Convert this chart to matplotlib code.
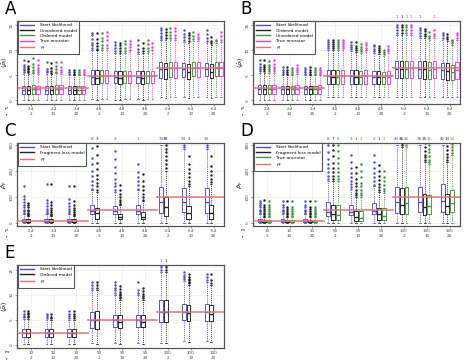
import matplotlib.pyplot as plt
import numpy as np

# ---- labels -------------------------------------------------------------
rho_lab = ['2.4', '2.4', '2.4', '4.8', '4.8', '4.8', '6.4', '6.4', '6.4']
m_lab = ['10', '10', '10', '50', '50', '50', '100', '100', '100']
r_lab = ['2', '10', '20', '2', '10', '20', '2', '10', '20']

true_ab = [2.4, 4.8, 6.4]
true_cd = [10, 50, 100]
true_e = [2.4, 4.9, 6.5]

# ---- box stats: (whislo, q1, med, q3, whishi) per group ------------------
a_start = [(0.1, 1.2, 2.1, 2.9, 5.3), (0.1, 1.2, 2.1, 2.9, 5.3), (0.1, 1.3, 2.1, 2.8, 5.0),
           (0.2, 3.3, 4.7, 6.0, 10.0), (0.1, 3.5, 4.7, 5.9, 9.5), (0.2, 3.5, 4.6, 5.8, 9.3),
           (0.6, 4.5, 6.3, 7.6, 12.0), (0.6, 4.7, 6.3, 7.5, 11.7), (0.6, 4.8, 6.3, 7.5, 11.5)]
a_start_out = [[5.6, 6.0, 6.3, 6.7, 7.1, 8.0], [5.6, 5.9, 6.3, 7.6], [5.3, 5.6, 6.1],
               [10.4, 11.0, 11.5, 12.2, 13.0, 13.5], [9.9, 10.4, 11.0, 11.6], [9.7, 10.2, 11.0, 12.0],
               [12.4, 12.9, 13.5, 14.0, 14.5], [12.1, 12.6, 13.3, 14.1], [11.9, 12.5, 13.2, 14.0]]
a_unord = [(0.1, 1.2, 2.1, 2.9, 5.3), (0.1, 1.2, 2.1, 2.9, 5.2), (0.1, 1.3, 2.1, 2.8, 5.0),
           (0.1, 3.2, 4.5, 6.0, 10.0), (0.1, 3.3, 4.5, 5.9, 9.5), (0.1, 3.3, 4.5, 5.8, 9.4),
           (0.5, 4.3, 6.2, 7.5, 12.0), (0.5, 4.3, 5.6, 7.3, 11.5), (0.5, 4.4, 5.7, 7.3, 11.0)]
a_unord_out = [[5.6, 5.9, 6.2, 6.5, 6.9, 7.9], [5.5, 5.9, 6.4, 7.5], [5.3, 5.6, 6.1],
               [10.3, 10.8, 11.5, 12.3, 13.5], [9.9, 10.4, 11.0, 11.5], [9.8, 10.4, 11.5],
               [12.4, 13.0, 13.6, 14.3], [11.9, 12.4, 13.0, 13.5], [11.4, 11.8, 12.6]]
a_ord = [(0.1, 1.3, 2.2, 3.0, 5.4), (0.1, 1.3, 2.2, 3.0, 5.4), (0.1, 1.3, 2.1, 2.8, 5.0),
         (0.2, 3.5, 4.8, 6.0, 10.0), (0.2, 3.5, 4.8, 5.9, 9.5), (0.2, 3.5, 4.8, 5.8, 9.4),
         (0.7, 4.6, 6.4, 7.7, 12.0), (0.7, 4.8, 6.5, 7.7, 11.8), (0.7, 4.8, 6.4, 7.7, 11.5)]
a_ord_out = [[5.7, 6.1, 6.6, 7.2, 8.4], [5.7, 6.2, 6.8, 7.7], [5.3, 5.7, 6.1],
             [10.4, 11.0, 11.8, 12.5, 13.5], [9.9, 10.5, 11.2, 11.8], [9.8, 10.5, 11.3, 12.1],
             [12.4, 13.0, 13.7, 14.5], [12.2, 12.8, 13.6], [11.8, 12.1]]
a_true = [(0.1, 1.3, 2.2, 2.9, 5.3), (0.1, 1.3, 2.2, 3.0, 5.3), (0.1, 1.3, 2.1, 2.8, 5.0),
          (0.2, 3.4, 4.8, 6.0, 10.0), (0.2, 3.5, 4.8, 5.9, 9.6), (0.2, 3.5, 4.8, 5.9, 9.5),
          (0.7, 4.5, 6.4, 7.6, 12.0), (0.7, 4.7, 6.4, 7.6, 11.8), (0.7, 4.8, 6.4, 7.6, 11.6)]
a_true_out = [[5.6, 6.0, 6.5, 7.0, 8.1], [5.6, 6.0, 6.6, 7.7], [5.3, 5.7, 6.0],
              [10.4, 11.1, 12.0, 12.8, 13.6], [10.0, 10.6, 11.3, 11.8], [10.0, 10.6, 11.5],
              [12.4, 13.0, 13.8, 14.4], [12.2, 12.6, 13.3], [12.0, 12.8, 13.6]]

b_start = [(0.1, 1.3, 2.3, 3.1, 5.4), (0.1, 1.3, 2.2, 2.9, 5.0), (0.1, 1.3, 2.2, 2.9, 5.0),
           (0.7, 3.3, 4.8, 6.1, 10.0), (0.7, 3.3, 4.8, 6.0, 9.8), (0.7, 3.3, 4.6, 5.8, 9.5),
           (0.6, 4.5, 6.3, 7.9, 13.0), (0.6, 4.5, 6.3, 7.9, 12.5), (0.6, 4.2, 6.1, 7.5, 12.0)]
b_start_out = [[5.8, 6.2, 6.6, 7.2, 8.0], [5.3, 5.6, 6.0, 6.6], [5.3, 5.6, 6.0, 6.5],
               [10.4, 10.8, 11.3, 11.7, 12.1], [10.2, 10.6, 11.1, 11.6], [9.9, 10.3, 10.8, 11.1],
               [13.4, 14.0, 14.6, 15.1], [12.9, 13.4, 14.0, 14.5], [12.4, 13.0, 13.5]]
b_ord = [(0.1, 1.3, 2.2, 3.1, 5.4), (0.1, 1.3, 2.2, 2.9, 5.0), (0.1, 1.3, 2.2, 2.9, 5.0),
         (0.7, 3.2, 4.7, 6.1, 10.0), (0.7, 3.2, 4.6, 6.0, 9.6), (0.7, 3.2, 4.6, 5.8, 9.3),
         (0.6, 4.5, 6.3, 7.9, 13.0), (0.6, 4.3, 6.2, 7.8, 12.4), (0.6, 4.1, 5.9, 7.4, 11.8)]
b_ord_out = [[5.8, 6.2, 6.6, 7.1, 8.0], [5.3, 5.7, 6.1, 6.6], [5.3, 5.7, 6.1, 6.6],
             [10.4, 10.8, 11.3, 11.7, 12.1], [10.0, 10.4, 10.9, 11.6], [9.7, 10.1, 10.5, 10.8],
             [13.4, 14.0, 14.6, 15.1], [12.8, 13.2, 13.8, 14.3], [12.2, 12.7, 13.3]]
b_unord = [(0.1, 1.3, 2.3, 3.1, 5.4), (0.1, 1.3, 2.2, 2.9, 5.0), (0.1, 1.3, 2.2, 2.9, 5.0),
           (0.7, 3.3, 4.7, 6.1, 10.0), (0.7, 3.3, 4.6, 5.8, 9.4), (0.7, 3.3, 4.6, 5.6, 8.8),
           (0.6, 4.5, 6.3, 7.9, 13.0), (0.6, 4.3, 6.0, 7.6, 12.0), (0.6, 4.0, 5.6, 7.1, 11.0)]
b_unord_out = [[5.8, 6.2, 6.6, 7.1, 7.9], [5.3, 5.6, 6.0, 6.5], [5.3, 5.6, 6.0, 6.5],
               [10.4, 10.8, 11.3, 11.7, 12.1], [9.8, 10.2, 10.7, 11.3], [9.2, 9.6, 10.1],
               [13.4, 14.0, 14.6, 15.1], [12.4, 12.9, 13.6], [11.4, 11.8, 12.1]]
b_true = [(0.1, 1.3, 2.3, 3.1, 5.4), (0.1, 1.3, 2.3, 3.0, 5.2), (0.1, 1.3, 2.3, 3.0, 5.0),
          (0.7, 3.3, 4.8, 6.1, 10.0), (0.7, 3.3, 4.8, 6.0, 9.6), (0.7, 3.3, 4.7, 5.9, 9.5),
          (0.6, 4.5, 6.4, 7.9, 13.0), (0.6, 4.5, 6.3, 7.9, 12.4), (0.6, 4.3, 6.1, 7.6, 12.0)]
b_true_out = [[5.8, 6.2, 6.6, 7.2, 8.0], [5.6, 6.0, 6.5, 7.1], [5.3, 5.7, 6.1, 6.5],
              [10.4, 10.8, 11.3, 11.7, 12.1], [10.0, 10.4, 11.0, 11.5], [9.9, 10.3, 10.8],
              [13.4, 14.0, 14.6, 15.1], [12.8, 13.3, 14.1], [12.4, 13.0, 13.5]]

c_start = [(0, 4, 8, 16, 34), (0, 4, 8, 16, 34), (0, 4, 8, 16, 34),
           (0, 33, 48, 69, 125), (0, 33, 48, 67, 120), (0, 33, 46, 69, 125),
           (0, 37, 81, 139, 300), (0, 43, 81, 135, 285), (0, 40, 81, 135, 285)]
c_start_out = [[38, 45, 52, 60, 70, 80, 92, 103, 141], [38, 46, 55, 64, 75, 88, 150],
               [38, 46, 55, 65, 78, 92, 143], [132, 145, 160, 180, 200, 225, 250, 287],
               [128, 140, 155, 170, 190, 215, 245, 274], [132, 145, 160, 175, 195, 224],
               [], [292, 300], [292, 300]]
c_frag = [(0, 4, 6, 14, 26), (0, 4, 6, 14, 26), (0, 4, 6, 14, 26),
          (0, 14, 39, 56, 118), (0, 14, 24, 36, 68), (0, 14, 25, 43, 85),
          (0, 27, 62, 100, 200), (0, 14, 39, 65, 140), (0, 14, 37, 69, 150)]
c_frag_out = [[30, 35, 40, 46, 52, 60, 70, 78], [30, 36, 42, 50, 58, 68, 80, 150],
              [30, 36, 42, 50, 58, 70, 85, 143], [125, 140, 155, 170, 185, 205, 230, 260, 293],
              [72, 80, 90, 100, 112, 125, 147], [90, 100, 112, 125, 140, 160, 186],
              [210, 225, 240, 255, 270, 285, 300], [148, 160, 175, 190, 205, 225, 255],
              [158, 170, 185, 200, 220, 255]]

d_start = [(0, 4, 8, 16, 34), (0, 4, 8, 16, 34), (0, 4, 8, 16, 34),
           (0, 27, 43, 81, 160), (0, 30, 43, 71, 130), (0, 33, 46, 76, 140),
           (0, 39, 81, 139, 300), (0, 43, 81, 139, 300), (0, 43, 84, 150, 300)]
d_start_out = [[38, 45, 52, 60, 68, 76, 86], [38, 45, 52, 60, 70, 84], [38, 45, 52, 60, 70, 86],
               [168, 180, 195, 210, 225, 245, 270, 300], [137, 148, 160, 175, 190, 210, 235, 262],
               [147, 160, 175, 190, 210, 235, 262], [], [], []]
d_frag = [(0, 3, 6, 12, 24), (0, 3, 6, 12, 24), (0, 3, 6, 12, 24),
          (0, 11, 33, 71, 160), (0, 10, 23, 48, 100), (0, 11, 33, 58, 120),
          (0, 33, 69, 135, 290), (0, 30, 62, 112, 235), (0, 33, 67, 112, 235)]
d_frag_out = [[28, 34, 40, 46, 53, 60, 68, 90], [28, 34, 40, 47, 55, 63, 84],
              [28, 34, 40, 47, 55, 63, 86], [168, 180, 195, 210, 230, 255, 280, 300],
              [106, 115, 125, 140, 155, 170, 190, 215], [127, 138, 150, 165, 180, 200, 222],
              [298, 305], [242, 252, 262, 275, 290, 305], [242, 252, 265, 280, 295]]
d_true = [(0, 3, 6, 12, 24), (0, 3, 6, 12, 24), (0, 3, 6, 12, 24),
          (0, 11, 30, 71, 160), (0, 10, 20, 48, 100), (0, 11, 27, 58, 115),
          (0, 35, 75, 137, 290), (0, 33, 66, 107, 225), (0, 43, 75, 125, 260)]
d_true_out = [[28, 34, 40, 46, 53, 60, 68, 86], [28, 34, 40, 47, 55, 63, 84],
              [28, 34, 40, 47, 55, 63, 86], [168, 180, 195, 210, 230, 250, 275, 300],
              [106, 115, 125, 140, 155, 175, 200, 225], [122, 132, 145, 160, 178, 200],
              [298], [232, 242, 255, 270, 285, 300], [268, 280, 292, 302]]

e_start = [(0.1, 1.5, 2.3, 3.1, 5.2), (0.1, 1.5, 2.3, 3.1, 5.0), (0.1, 1.5, 2.3, 3.1, 5.0),
           (0.3, 3.4, 5.0, 6.6, 11.0), (0.3, 3.5, 5.0, 6.0, 10.0), (0.3, 3.5, 5.0, 6.0, 10.0),
           (0.4, 4.5, 6.5, 8.9, 14.5), (0.8, 4.9, 6.5, 8.1, 12.7), (0.8, 4.8, 6.5, 8.2, 12.5)]
e_start_out = [[5.5, 5.8, 6.2, 6.7], [5.3, 5.7, 6.1], [5.3, 5.7, 6.2, 6.8],
               [11.4, 11.9, 12.5], [10.4, 10.9, 11.4, 12.0, 12.5], [10.4, 11.0, 12.5],
               [15.0, 15.5, 16.0], [13.1, 13.5, 14.0, 14.5], [12.9, 13.5, 14.1]]
e_ord = [(0.1, 1.5, 2.3, 3.1, 5.2), (0.1, 1.5, 2.3, 3.1, 5.0), (0.1, 1.5, 2.3, 3.1, 5.0),
         (0.1, 3.1, 5.0, 6.7, 11.0), (0.1, 3.3, 4.6, 6.0, 9.0), (0.1, 3.5, 4.6, 6.0, 9.0),
         (0.4, 4.5, 6.5, 8.9, 14.5), (0.5, 4.8, 6.3, 7.9, 12.0), (0.5, 4.8, 6.1, 7.9, 12.0)]
e_ord_out = [[5.5, 5.8, 6.1, 6.4, 6.8], [5.3, 5.6, 6.1], [5.3, 5.7, 6.2, 6.8],
             [11.4, 11.9, 12.5], [9.3, 9.6, 9.9, 10.2, 10.6, 11.2, 11.8], [9.4, 9.8, 10.2, 10.7, 11.3],
             [15.0, 15.5, 16.0], [12.3, 12.6, 12.9, 13.2, 13.6, 14.1], [12.4, 13.0, 14.1]]

# counts of points above the plotted range: (group, slot, text)
b_counts = [(7, 0, '1'), (7, 1, '1'), (7, 2, '1'), (7, 3, '1'), (8, 0, '1'), (8, 3, '1')]
c_counts = [(4, 0, '8'), (4, 1, '3'), (5, 0, '3'), (6, 0, '1'),
            (7, 0, '33'), (7, 1, '38'), (8, 0, '34'), (8, 1, '2'), (9, 0, '33')]
d_counts = [(4, 0, '8'), (4, 1, '7'), (4, 2, '6'), (5, 0, '3'), (5, 1, '1'), (5, 2, '1'),
            (6, 0, '2'), (6, 1, '1'), (6, 2, '1'), (7, 0, '40'), (7, 1, '36'), (7, 2, '46'),
            (8, 0, '36'), (8, 1, '15'), (8, 2, '11'), (9, 0, '40'), (9, 1, '13'), (9, 2, '13')]
e_counts = [(7, 0, '1'), (7, 1, '1')]

BLUE = '#4c4cdc'
BLACK = '#222222'
GREEN = '#3c963c'
MAG = '#ee3cee'
RED = '#e87070'

slots = [-0.31, -0.1, 0.11, 0.32]
groups = np.arange(1, 10)
XL = (0.4, 9.45)


def draw_panel(ax, letter, series, names, colors, true_vals, true_name, ylim, yticks,
               ylabel, row1, row1_name, width, counts=()):
    for k, (stats, outs) in enumerate(series):
        bs = [dict(whislo=s[0], q1=s[1], med=s[2], q3=s[3], whishi=s[4], fliers=o)
              for s, o in zip(stats, outs)]
        c = colors[k]
        ax.bxp(bs, positions=groups + slots[k], widths=width, manage_ticks=False,
               boxprops=dict(color=c, lw=0.65),
               whiskerprops=dict(color=c, lw=0.55, ls=(0, (1.5, 1.2))),
               capprops=dict(color=c, lw=0.55),
               medianprops=dict(color=c, lw=1.0),
               flierprops=dict(marker='o', ms=1.4, mfc=c, mec=c, mew=0.3))
        ax.plot([], [], color=c, lw=1.0, label=names[k])
    edges = [XL[0], 3.5, 6.5, XL[1]]
    for i, v in enumerate(true_vals):
        ax.plot([edges[i], edges[i + 1]], [v, v], color=RED, lw=1.2, alpha=0.9, zorder=5)
    ax.plot([], [], color=RED, lw=1.0, label=true_name)
    for g, s, t in counts:
        ax.text(g + slots[s], 1.012, t, transform=ax.get_xaxis_transform(),
                ha='center', va='bottom', fontsize=3.0, color=colors[s])
    ax.set_xlim(*XL)
    ax.set_ylim(*ylim)
    ax.set_yticks(yticks)
    ax.set_yticklabels([str(t) for t in yticks], rotation=90, va='center', fontsize=3.0)
    ax.set_xticks(groups)
    ax.set_xticklabels([a + '\n' + b for a, b in zip(row1, r_lab)], fontsize=3.0,
                       linespacing=1.3)
    ax.tick_params(length=1.5, width=0.4, pad=1.0, colors='#444444')
    ax.grid(color='#e8e8e8', lw=0.4)
    ax.set_axisbelow(True)
    for sp in ax.spines.values():
        sp.set_color('#555555')
        sp.set_linewidth(0.9)
    ax.set_ylabel(ylabel, fontsize=4.5)
    ax.yaxis.set_label_coords(-0.04, 0.5)
    ax.text(-0.05, -0.05, row1_name, transform=ax.transAxes, fontsize=3.2,
            ha='center', va='center')
    ax.text(-0.05, -0.135, 'r', transform=ax.transAxes, fontsize=3.2,
            ha='center', va='center')
    ax.text(-0.06, 1.035, letter, transform=ax.transAxes, fontsize=12, ha='left', va='bottom')
    leg = ax.legend(loc='upper left', fontsize=3.1, handlelength=3.4, borderpad=0.5,
                    labelspacing=0.3, fancybox=False, framealpha=1,
                    borderaxespad=0.15, handletextpad=1.2)
    leg.get_frame().set_edgecolor('#555555')
    leg.get_frame().set_linewidth(0.8)


fig = plt.figure(figsize=(4.76, 3.62), dpi=100)
W, H = 207 / 476, 83.5 / 362
axA = fig.add_axes([17 / 476, 1 - 104 / 362, W, H])
axB = fig.add_axes([253 / 476, 1 - 104 / 362, W, H])
axC = fig.add_axes([17 / 476, 1 - 226 / 362, W, H])
axD = fig.add_axes([253 / 476, 1 - 226 / 362, W, H])
axE = fig.add_axes([17 / 476, 1 - 348 / 362, W, H])

lab_r = r'$\langle\hat{\rho}_i\rangle$'
draw_panel(axA, 'A', [(a_start, a_start_out), (a_unord, a_unord_out), (a_ord, a_ord_out),
                      (a_true, a_true_out)],
           ['Start likelihood', 'Unordered model', 'Ordered model', 'True ancestor'],
           [BLUE, BLACK, GREEN, MAG], true_ab, r'$\rho_i$', (-0.7, 15.9), [0, 5, 10, 15],
           lab_r, rho_lab, r'$\rho$', 0.14)
draw_panel(axB, 'B', [(b_start, b_start_out), (b_ord, b_ord_out), (b_unord, b_unord_out),
                      (b_true, b_true_out)],
           ['Start likelihood', 'Ordered model', 'Unordered model', 'True ancestor'],
           [BLUE, BLACK, GREEN, MAG], true_ab, r'$\rho_i$', (-0.7, 15.9), [0, 5, 10, 15],
           lab_r, rho_lab, r'$\rho$', 0.14, b_counts)
draw_panel(axC, 'C', [(c_start, c_start_out), (c_frag, c_frag_out)],
           ['Start likelihood', 'Fragment loss model'],
           [BLUE, BLACK], true_cd, r'$\rho_F$', (-11, 308), [0, 100, 200, 300],
           r'$\hat{\rho}_F$', rho_lab, r'$\rho$', 0.18, c_counts)
draw_panel(axD, 'D', [(d_start, d_start_out), (d_frag, d_frag_out), (d_true, d_true_out)],
           ['Start likelihood', 'Fragment loss model', 'True ancestor'],
           [BLUE, BLACK, GREEN], true_cd, r'$\rho_F$', (-11, 308), [0, 100, 200, 300],
           r'$\hat{\rho}_F$', m_lab, 'm', 0.17, d_counts)
draw_panel(axE, 'E', [(e_start, e_start_out), (e_ord, e_ord_out)],
           ['Start likelihood', 'Ordered model'],
           [BLUE, BLACK], true_e, r'$\rho_i$', (-0.7, 16.1), [0, 5, 10, 15],
           lab_r, m_lab, 'm', 0.17, e_counts)

fig.savefig('out.png', dpi=100)
